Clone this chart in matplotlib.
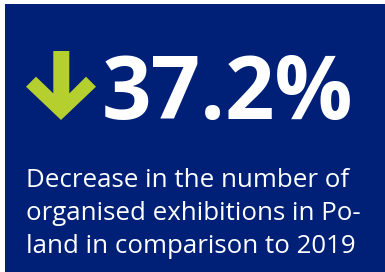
import matplotlib.pyplot as plt
from matplotlib.patches import Rectangle, Polygon

# Data
change_pct = -37.2
caption_lines = [
    "Decrease in the number of",
    "organised exhibitions in Po-",
    "land in comparison to 2019",
]

bg_blue = "#001f77"
arrow_green = "#b5cf2f"

W, H = 385, 272
fig = plt.figure(figsize=(W / 100, H / 100), dpi=100)
ax = fig.add_axes([0, 0, 1, 1])
ax.set_xlim(0, W)
ax.set_ylim(H, 0)
ax.axis("off")

# blue panel
ax.add_patch(Rectangle((5, 4), W - 5, H - 4, color=bg_blue, lw=0))

# down arrow (shape in pixel units)
arrow = [(53.3, 51), (69.3, 51), (69.3, 93.4), (86, 76.7), (96, 86.7),
         (61, 120), (26, 86.7), (36, 76.7), (53.3, 93.4)]
ax.add_patch(Polygon(arrow, closed=True, color=arrow_green, lw=0))

ax.text(102, 119, f"{abs(change_pct):.1f}%", color="white", fontsize=62.5,
        fontweight="bold", family="Open Sans", va="baseline", ha="left")

for i, line in enumerate(caption_lines):
    ax.text(26, 187 + i * 33, line, color="white", fontsize=18.6,
            family="Open Sans", va="baseline", ha="left")

fig.savefig("out.png", dpi=100)
